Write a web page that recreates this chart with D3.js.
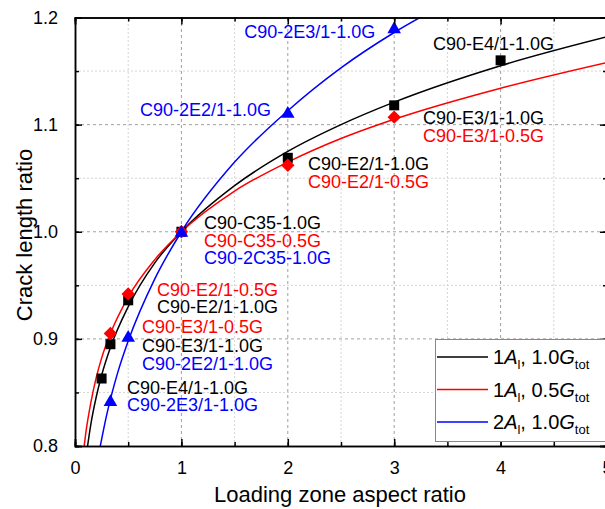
<!DOCTYPE html>
<html>
<head>
<meta charset="utf-8">
<script src="https://cdn.jsdelivr.net/npm/d3@7"></script>
<style>
  body { margin: 0; background: #fff; }
  text { font-family: "Liberation Sans", Arial, sans-serif; }
</style>
</head>
<body>
<div id="wrapper"></div>
<script>
// Measured points (aspect ratio, crack length ratio)
const pts10G = [[0.25,0.863],[0.333,0.895],[0.5,0.936],[1,1.0],[2,1.069],[3,1.118],[4,1.160]];
const pts05G = [[0.333,0.905],[0.5,0.942],[1,1.0],[2,1.062],[3,1.107]];
const pts2A = [[0.333,0.842],[0.5,0.902],[1,1.0],[2,1.111],[3,1.190]];

// Fit curves
const fit10G = [[0.1,0.787],[0.15,0.821],[0.2,0.846],[0.25,0.866],[0.333,0.892],[0.5,0.930],[0.75,0.971],[1,1],[1.5,1.043],[2,1.075],[2.5,1.100],[3,1.121],[4,1.155],[5,1.182]];
const fit05G = [[0.08,0.795],[0.1,0.811],[0.15,0.841],[0.2,0.864],[0.25,0.882],[0.333,0.905],[0.5,0.939],[0.75,0.974],[1,1],[1.5,1.038],[2,1.065],[2.5,1.087],[3,1.105],[4,1.134],[5,1.158]];
const fit2A = [[0.22,0.791],[0.3,0.830],[0.4,0.868],[0.5,0.898],[0.75,0.956],[1,1],[1.5,1.065],[2,1.113],[2.5,1.153],[3,1.186],[3.5,1.214]];

const xTicks = [0,1,2,3,4,5];
const yTicks = [0.8,0.9,1.0,1.1,1.2];

// Specimen annotations: [text, colour, x, y] in data units
const notes = [
  ["C90-2E3/1-1.0G","blue",1.59,1.186],
  ["C90-E4/1-1.0G","black",3.365,1.175],
  ["C90-2E2/1-1.0G","blue",0.611,1.114],
  ["C90-E3/1-1.0G","black",3.27,1.106],
  ["C90-E3/1-0.5G","red",3.27,1.089],
  ["C90-E2/1-1.0G","black",2.19,1.063],
  ["C90-E2/1-0.5G","red",2.19,1.046],
  ["C90-C35-1.0G","black",1.212,1.008],
  ["C90-C35-0.5G","red",1.212,0.991],
  ["C90-2C35-1.0G","blue",1.212,0.9755],
  ["C90-E2/1-0.5G","red",0.771,0.9457],
  ["C90-E2/1-1.0G","black",0.771,0.9298],
  ["C90-E3/1-0.5G","red",0.63,0.911],
  ["C90-E3/1-1.0G","black",0.63,0.8934],
  ["C90-2E2/1-1.0G","blue",0.63,0.8766],
  ["C90-E4/1-1.0G","black",0.489,0.854],
  ["C90-2E3/1-1.0G","blue",0.489,0.838]
];

const legendItems = [
  {n:"1", g:"1.0", color:"black"},
  {n:"1", g:"0.5", color:"red"},
  {n:"2", g:"1.0", color:"blue"}
];

const W = 605, H = 509;
const svg = d3.select("#wrapper").append("svg")
  .attr("width", W).attr("height", H);

const x = d3.scaleLinear().domain([0,5]).range([75,607]);
const y = d3.scaleLinear().domain([0.8,1.2]).range([446,17.5]);

// grid
const minorX = [0.5,1.5,2.5,3.5,4.5];
const minorY = [0.85,0.95,1.05,1.15];
const grid = svg.append("g");
grid.selectAll(".gxm").data(minorX).enter().append("line")
  .attr("x1", d=>x(d)).attr("x2", d=>x(d)).attr("y1", y(0.8)).attr("y2", y(1.2))
  .attr("stroke","#d4d4d4").attr("stroke-dasharray","2,2");
grid.selectAll(".gym").data(minorY).enter().append("line")
  .attr("y1", d=>y(d)).attr("y2", d=>y(d)).attr("x1", x(0)).attr("x2", x(5))
  .attr("stroke","#d4d4d4").attr("stroke-dasharray","2,2");
grid.selectAll(".gx").data([1,2,3,4]).enter().append("line")
  .attr("x1", d=>x(d)).attr("x2", d=>x(d)).attr("y1", y(0.8)).attr("y2", y(1.2))
  .attr("stroke","#a0a0a0").attr("stroke-dasharray","3,3");
grid.selectAll(".gy").data([0.9,1.0,1.1]).enter().append("line")
  .attr("y1", d=>y(d)).attr("y2", d=>y(d)).attr("x1", x(0)).attr("x2", x(5))
  .attr("stroke","#a0a0a0").attr("stroke-dasharray","3,3");

// clip for curves
svg.append("clipPath").attr("id","plotclip").append("rect")
  .attr("x", x(0)).attr("y", y(1.2)).attr("width", x(5)-x(0)).attr("height", y(0.8)-y(1.2));

const line = d3.line().x(d=>x(d[0])).y(d=>y(d[1])).curve(d3.curveMonotoneX);
const curves = svg.append("g").attr("clip-path","url(#plotclip)");
[[fit10G,"black"],[fit05G,"red"],[fit2A,"blue"]].forEach(([data,c]) => {
  curves.append("path").datum(data).attr("d", line)
    .attr("fill","none").attr("stroke", c).attr("stroke-width",1.5);
});

// markers
svg.append("g").selectAll("rect").data(pts10G).enter().append("rect")
  .attr("x", d=>x(d[0])-5).attr("y", d=>y(d[1])-5)
  .attr("width",10).attr("height",10).attr("fill","black");
svg.append("g").selectAll("path").data(pts05G).enter().append("path")
  .attr("d", d3.symbol(d3.symbolDiamond2, 115))
  .attr("transform", d=>`translate(${x(d[0])},${y(d[1])})`).attr("fill","red");
svg.append("g").selectAll("path").data(pts2A).enter().append("path")
  .attr("d", d3.symbol(d3.symbolTriangle, 80))
  .attr("transform", d=>`translate(${x(d[0])},${y(d[1])+1})`).attr("fill","blue");

// axes with inward ticks
const minorXt = d3.range(0,5.01,0.5);
const minorYt = d3.range(0.8,1.201,0.05);
const ax = svg.append("g");
ax.append("g").attr("transform",`translate(0,${y(0.8)})`)
  .call(d3.axisBottom(x).tickValues(xTicks).tickSize(-7).tickPadding(15).tickFormat(d3.format("d")));
ax.append("g").attr("transform",`translate(0,${y(0.8)})`)
  .call(d3.axisBottom(x).tickValues(minorXt).tickSize(-4).tickFormat(""));
ax.append("g").attr("transform",`translate(0,${y(1.2)})`)
  .call(d3.axisTop(x).tickValues(xTicks).tickSize(-7).tickFormat(""));
ax.append("g").attr("transform",`translate(0,${y(1.2)})`)
  .call(d3.axisTop(x).tickValues(minorXt).tickSize(-4).tickFormat(""));
ax.append("g").attr("transform",`translate(${x(0)},0)`)
  .call(d3.axisLeft(y).tickValues(yTicks).tickSize(-7).tickPadding(17).tickFormat(d3.format(".1f")));
ax.append("g").attr("transform",`translate(${x(0)},0)`)
  .call(d3.axisLeft(y).tickValues(minorYt).tickSize(-4).tickFormat(""));
ax.append("g").attr("transform",`translate(${x(5)},0)`)
  .call(d3.axisRight(y).tickValues(yTicks).tickSize(-7).tickFormat(""));
ax.append("g").attr("transform",`translate(${x(5)},0)`)
  .call(d3.axisRight(y).tickValues(minorYt).tickSize(-4).tickFormat(""));
ax.selectAll(".domain").attr("stroke","black").attr("stroke-width",1.5);
ax.selectAll(".tick line").attr("stroke","black").attr("stroke-width",1.5);
ax.selectAll(".tick text").style("font-size","18px").attr("fill","black")
  .style("font-family",'"Liberation Sans", Arial, sans-serif');

// annotations
svg.append("g").selectAll("text").data(notes).enter().append("text")
  .attr("x", d=>x(d[2])).attr("y", d=>y(d[3]))
  .attr("dominant-baseline","central")
  .style("font-size","18px").attr("fill", d=>d[1]).text(d=>d[0]);

// axis titles
svg.append("text").attr("x", 340).attr("y", 502)
  .attr("text-anchor","middle").style("font-size","22px").text("Loading zone aspect ratio");
svg.append("text").attr("transform",`translate(32,${235}) rotate(-90)`)
  .attr("text-anchor","middle").style("font-size","22px").text("Crack length ratio");

// legend
const lg = svg.append("g");
lg.append("rect").attr("x",435.5).attr("y",339.5).attr("width",200).attr("height",102)
  .attr("fill","white").attr("stroke","#888").attr("stroke-width",1);
legendItems.forEach((d,i) => {
  const ly = 357 + i*32.5;
  lg.append("line").attr("x1",437).attr("x2",488).attr("y1",ly).attr("y2",ly)
    .attr("stroke", d.color).attr("stroke-width",1.5);
  const t = lg.append("text").attr("x",493).attr("y",ly+7).style("font-size","20px");
  t.append("tspan").text(d.n);
  t.append("tspan").style("font-style","italic").text("A");
  t.append("tspan").attr("dy",5).style("font-size","13px").text("l");
  t.append("tspan").attr("dy",-5).text(", " + d.g);
  t.append("tspan").style("font-style","italic").text("G");
  t.append("tspan").attr("dy",5).style("font-size","13px").text("tot");
});
</script>
</body>
</html>
